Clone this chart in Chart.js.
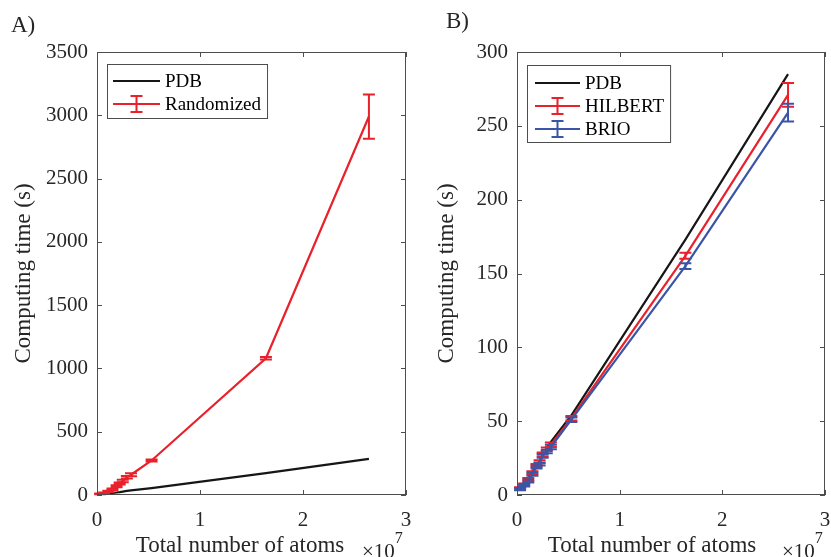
<!DOCTYPE html>
<html><head><meta charset="utf-8">
<script src="https://cdn.jsdelivr.net/npm/chart.js@4"></script>
<style>html,body{margin:0;padding:0;background:#fff;overflow:hidden}
#a{position:absolute;left:0;top:0}#b{position:absolute;left:415px;top:0}</style>
</head><body>
<canvas id="a" width="415" height="557"></canvas>
<canvas id="b" width="416" height="557"></canvas>
<script>
// ---- data (x in atoms, y in seconds) ----
const atoms = [0.03e7,0.07e7,0.11e7,0.15e7,0.19e7,0.22e7,0.25e7,0.29e7,0.33e7,0.53e7,1.64e7,2.64e7];
const pdbTime = [4,7,11,16,20,23,27,32,36,54,173,285];
const randomizedTime = [8,15,28,45,70,90,110,140,160,273,1080,2990];
const randomizedErr  = [3,4,5,6,8,8,10,10,12,8,10,175];
const hilbertTime = [4.5,7,10.5,15,20,22.5,27.5,31,34,52,162,271];
const hilbertErr  = [0.8,0.8,1,1,1,1,1.2,1.2,1.5,1.5,2,8];
const brioTime = [4,6.5,9.5,14,19,21,26.5,29.5,32.5,51,155,259];
const brioErr  = [0.8,0.8,1,1,1,1,1.2,1.2,1.5,1.5,2,6];
const xTitle = 'Total number of atoms';
const yTitle = 'Computing time (s)';

const RED='#e8212b', BLUE='#3b55a6', BLACK='#161616', AX='#4d4d4d';
const SERIF='"Liberation Serif","Times New Roman",serif';
const pts = (ys)=>atoms.map((x,i)=>({x:x,y:ys[i]}));

function panelPlugin(o){
  return {
    id:'panel'+o.name,
    afterDatasetDraw(chart,args){
      const ds=chart.data.datasets[args.index];
      if(!ds.err) return;
      const ctx=chart.ctx, xs=chart.scales.x, ys=chart.scales.y;
      ctx.save(); ctx.strokeStyle=ds.borderColor; ctx.lineWidth=2;
      ds.data.forEach((p,i)=>{
        const px=xs.getPixelForValue(p.x);
        const t=ys.getPixelForValue(p.y+ds.err[i]), b=ys.getPixelForValue(p.y-ds.err[i]);
        ctx.beginPath(); ctx.moveTo(px,t); ctx.lineTo(px,b);
        ctx.moveTo(px-o.cap,t); ctx.lineTo(px+o.cap,t);
        ctx.moveTo(px-o.cap,b); ctx.lineTo(px+o.cap,b); ctx.stroke();
      });
      ctx.restore();
    },
    afterDraw(chart){
      const ctx=chart.ctx, a=chart.chartArea, xs=chart.scales.x, ys=chart.scales.y;
      ctx.save();
      ctx.strokeStyle=AX; ctx.lineWidth=1;
      ctx.strokeRect(a.left+0.5,a.top+0.5,a.right-a.left-1,a.bottom-a.top-1);
      ctx.beginPath();
      xs.ticks.forEach(t=>{const px=Math.round(xs.getPixelForValue(t.value))+0.5;
        ctx.moveTo(px,a.bottom); ctx.lineTo(px,a.bottom-5); ctx.moveTo(px,a.top); ctx.lineTo(px,a.top+5);});
      ys.ticks.forEach(t=>{const py=Math.round(ys.getPixelForValue(t.value))+0.5;
        ctx.moveTo(a.left,py); ctx.lineTo(a.left+5,py); ctx.moveTo(a.right,py); ctx.lineTo(a.right-5,py);});
      ctx.stroke();
      ctx.fillStyle='#262626';
      ctx.font='23px '+SERIF; ctx.textAlign='center'; ctx.textBaseline='middle';
      ctx.fillText(xTitle,o.xTitleX,546);
      ctx.save(); ctx.translate(o.yTitleX,(a.top+a.bottom)/2); ctx.rotate(-Math.PI/2);
      ctx.fillText(yTitle,0,0); ctx.restore();
      ctx.textAlign='left'; ctx.font='21px '+SERIF;
      ctx.fillText('\u00d710',o.expX,552);
      const w=ctx.measureText('\u00d710').width;
      ctx.font='16px '+SERIF; ctx.fillText('7',o.expX+w,539);
      ctx.font='23px '+SERIF; ctx.fillText(o.label,o.labelX,o.labelY);
      ctx.font='19px '+SERIF;
      let maxW=0; o.legend.forEach(l=>{maxW=Math.max(maxW,ctx.measureText(l.text).width);});
      const L=o.legendBox;
      const bw=(L.textX-L.x)+maxW+6;
      ctx.fillStyle='#fff'; ctx.fillRect(L.x,L.y,bw,L.h);
      ctx.strokeStyle=AX; ctx.lineWidth=1; ctx.strokeRect(L.x+0.5,L.y+0.5,bw,L.h);
      o.legend.forEach((l,i)=>{
        const y=L.firstY+i*L.step;
        ctx.strokeStyle=l.color; ctx.lineWidth=2;
        ctx.beginPath(); ctx.moveTo(L.lineX0,y); ctx.lineTo(L.lineX1,y);
        if(l.err){const c=(L.lineX0+L.lineX1)/2;
          ctx.moveTo(c,y-8);ctx.lineTo(c,y+8);ctx.moveTo(c-6,y-8);ctx.lineTo(c+6,y-8);ctx.moveTo(c-6,y+8);ctx.lineTo(c+6,y+8);}
        ctx.stroke();
        ctx.fillStyle='#000'; ctx.textAlign='left'; ctx.textBaseline='middle';
        ctx.fillText(l.text,L.textX,y+1);
      });
      ctx.restore();
    }
  };
}

function makeOptions(yMax,yStep,yAxisW,padRight){
  return {
    responsive:false, animation:false, devicePixelRatio:1,
    layout:{padding:{left:0,top:52,right:padRight,bottom:0}},
    plugins:{legend:{display:false},tooltip:{enabled:false}},
    elements:{point:{radius:0},line:{tension:0,borderWidth:2.2}},
    scales:{
      x:{type:'linear',min:0,max:3e7,
        grid:{display:false,drawTicks:false},border:{display:false},
        ticks:{stepSize:1e7,padding:13,color:'#262626',font:{family:SERIF,size:21},
          callback:v=>String(Math.round(v/1e7)),maxRotation:0},
        afterFit:s=>{s.height=62;s.paddingLeft=0;s.paddingRight=0;}},
      y:{type:'linear',min:0,max:yMax,
        grid:{display:false,drawTicks:false},border:{display:false},
        ticks:{stepSize:yStep,padding:9,color:'#262626',font:{family:SERIF,size:21},
          callback:v=>String(v)},
        afterFit:s=>{s.width=yAxisW;}}
    }
  };
}

new Chart(document.getElementById('a'),{
  type:'line',
  data:{datasets:[
    {label:'Randomized',data:pts(randomizedTime),err:randomizedErr,borderColor:RED,order:0},
    {label:'PDB',data:pts(pdbTime),borderColor:BLACK,order:1}
  ]},
  options:makeOptions(3500,500,97,9),
  plugins:[panelPlugin({name:'A',cap:6,label:'A)',labelX:11,labelY:26,xTitleX:240,yTitleX:24,expX:362,
    legendBox:{x:107,y:64,h:54,firstY:81,step:23,lineX0:113,lineX1:160,textX:165},
    legend:[{text:'PDB',color:BLACK},{text:'Randomized',color:RED,err:true}]})]
});

new Chart(document.getElementById('b'),{
  type:'line',
  data:{datasets:[
    {label:'BRIO',data:pts(brioTime),err:brioErr,borderColor:BLUE,order:0},
    {label:'HILBERT',data:pts(hilbertTime),err:hilbertErr,borderColor:RED,order:1},
    {label:'PDB',data:pts(pdbTime),borderColor:BLACK,order:2}
  ]},
  options:makeOptions(300,50,102,6),
  plugins:[panelPlugin({name:'B',cap:6,label:'B)',labelX:31,labelY:22,xTitleX:237,yTitleX:32,expX:367,
    legendBox:{x:112,y:65,h:77,firstY:83,step:23,lineX0:120,lineX1:165,textX:170},
    legend:[{text:'PDB',color:BLACK},{text:'HILBERT',color:RED,err:true},{text:'BRIO',color:BLUE,err:true}]})]
});
</script>
</body></html>
